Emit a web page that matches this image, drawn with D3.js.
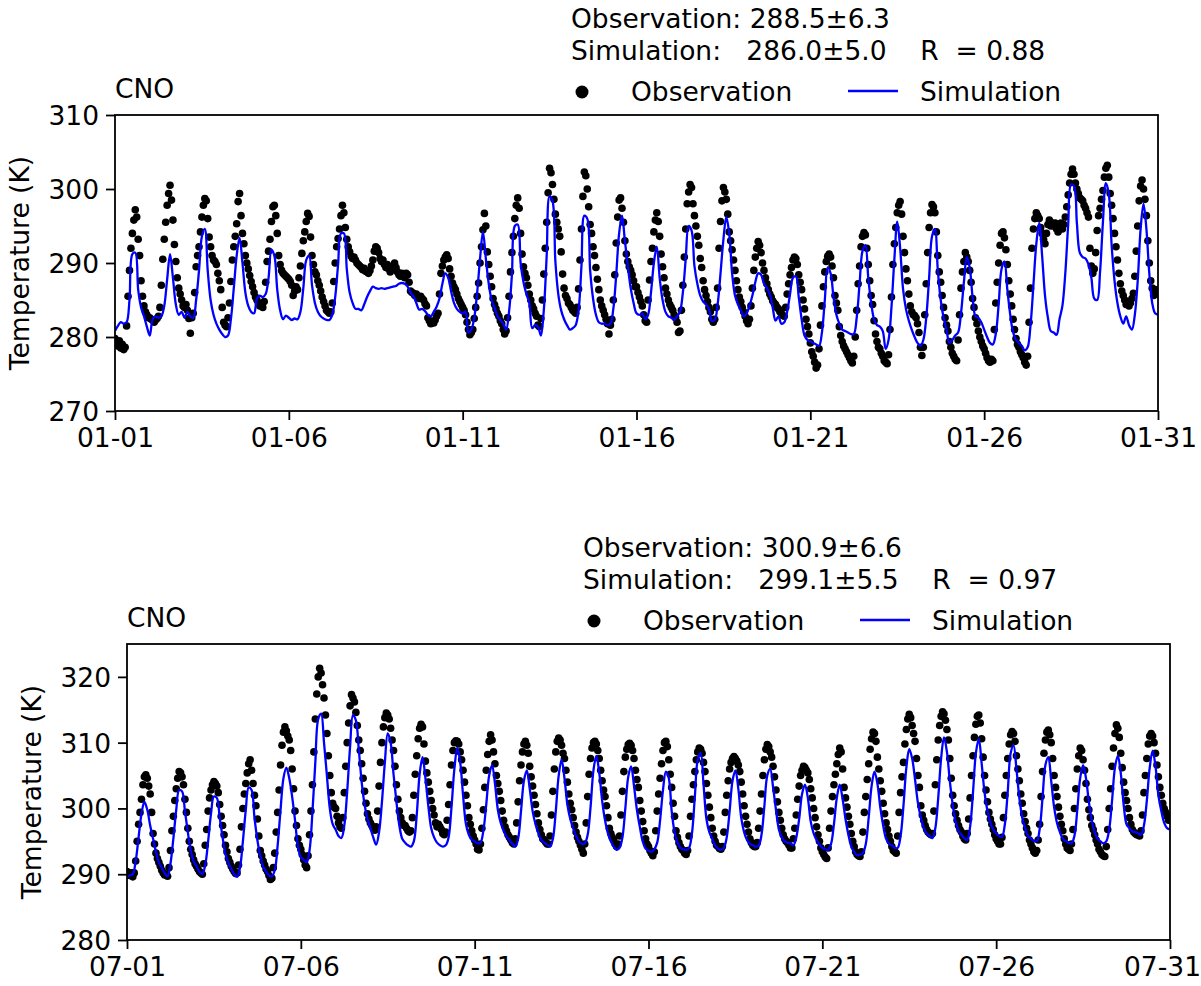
<!DOCTYPE html>
<html><head><meta charset="utf-8">
<script src="https://cdn.jsdelivr.net/npm/d3@7"></script>
<style>
body{margin:0;background:#fff;}
svg text{font-family:"DejaVu Sans",sans-serif;fill:#000;}
</style></head><body>
<svg id="chart" width="1201" height="986"></svg>
<script>
// ---------- January: hourly observations (30 days x 24 h) ----------
const obsJan = [
279.8,279.2,278.8,279.5,278.5,279.0,278.3,278.6,281.5,285.5,289.0,292.0,294.0,295.8,297.2,296.2,293.2,291.0,287.6,285.5,284.2,283.4,283.0,282.6,
282.6,282.4,282.3,282.0,282.3,282.5,282.8,284.0,287.0,290.5,293.2,295.5,297.8,299.4,300.5,298.5,295.8,292.5,290.2,288.0,286.6,285.8,285.0,284.2,
284.0,284.4,283.6,282.5,280.5,282.6,283.2,286.0,289.5,291.0,292.2,294.2,296.2,297.8,298.7,298.4,296.0,293.5,292.2,291.0,290.4,290.2,289.8,288.6,
287.6,286.4,284.0,282.0,281.6,281.4,282.6,284.6,287.5,290.4,292.2,293.6,295.3,298.3,299.4,296.4,294.0,292.6,291.0,290.0,289.2,288.3,287.5,286.8,
286.0,285.4,285.0,284.6,284.2,284.4,284.0,284.8,287.4,290.2,291.6,293.2,295.6,297.6,297.8,296.4,294.0,291.0,289.8,289.0,288.6,288.4,288.2,288.0,
287.8,287.5,287.0,285.6,286.2,286.8,286.4,288.0,289.6,291.3,293.0,294.2,295.6,296.7,296.3,293.5,291.0,289.8,288.8,288.4,287.6,287.0,286.2,285.4,
284.8,284.2,283.6,283.4,283.2,283.4,284.6,287.5,290.0,292.2,293.3,294.6,296.4,297.8,296.8,294.8,293.2,292.2,291.5,290.9,290.6,290.8,290.4,290.0,
289.8,289.6,289.4,289.1,289.3,288.9,288.8,288.6,289.0,289.6,290.4,291.6,292.2,292.0,291.4,290.6,290.2,290.4,289.8,289.4,289.8,289.2,288.8,289.2,
289.6,290.0,289.4,288.8,288.4,288.2,288.6,288.3,288.0,288.6,288.4,287.4,286.2,286.0,285.9,285.6,285.8,285.4,285.2,285.5,285.2,285.0,284.5,284.2,
282.6,282.2,281.8,282.0,281.9,282.3,282.8,283.2,285.8,288.6,289.6,290.4,290.8,291.1,290.6,289.2,288.2,287.3,286.8,286.4,285.8,285.2,284.8,284.4,
284.0,283.6,283.0,282.0,281.0,280.3,280.6,281.0,282.5,284.0,285.5,287.3,290.0,292.2,294.5,296.7,295.0,291.5,289.8,288.2,286.8,285.2,284.4,283.8,
283.2,282.8,282.2,281.8,281.0,280.4,280.8,282.6,285.5,288.8,291.4,293.6,296.0,297.8,298.8,297.4,294.0,291.2,289.5,288.6,288.0,287.0,285.8,285.0,
284.2,283.8,283.2,282.8,281.6,281.4,282.5,285.0,288.5,292.0,295.5,299.5,302.8,302.2,300.6,298.6,296.6,295.5,294.6,293.6,291.5,288.5,286.6,285.6,
285.2,284.6,284.4,284.0,283.6,283.4,283.2,284.0,286.5,290.4,294.6,299.0,302.3,301.8,300.0,297.6,295.2,294.0,292.2,291.0,289.4,287.8,286.4,285.0,
284.2,283.6,283.0,282.4,281.8,280.4,281.6,282.4,285.0,288.4,292.7,296.2,298.5,298.8,297.4,295.5,293.0,291.2,290.2,289.5,289.0,288.4,287.6,286.8,
286.8,286.0,285.4,284.8,284.2,283.0,282.2,282.0,285.0,287.7,290.2,292.0,294.2,295.8,296.8,295.6,293.6,291.2,289.5,288.0,286.6,285.8,285.0,284.4,
284.0,283.6,283.0,282.6,282.0,280.6,280.8,283.6,287.0,290.8,294.6,298.0,299.6,300.6,300.2,298.0,296.4,295.0,293.6,292.4,290.6,289.4,287.6,286.4,
285.6,284.8,284.0,283.4,282.4,282.0,282.4,284.0,286.6,292.0,295.6,298.4,300.2,299.6,298.6,296.6,294.2,293.0,291.8,290.4,289.0,287.6,286.4,285.4,
284.8,284.0,283.4,282.8,282.2,281.8,282.4,284.2,286.6,289.0,290.8,292.0,292.9,292.4,291.4,290.0,289.0,288.0,287.2,286.4,285.8,285.4,284.9,284.6,
284.4,284.0,283.8,283.4,283.2,282.9,282.8,284.0,285.8,287.2,288.4,289.4,290.4,290.8,290.6,289.8,288.4,287.4,286.4,285.0,283.8,282.4,281.4,280.4,
279.2,278.0,277.4,276.6,275.8,276.2,278.4,281.6,284.2,286.8,288.8,290.2,290.9,291.2,290.8,289.6,288.0,285.6,284.6,283.6,281.4,280.2,279.4,278.8,
278.4,278.0,277.6,277.2,276.8,276.5,277.4,280.0,283.6,287.2,289.6,292.2,293.6,294.1,293.8,292.0,289.8,287.6,285.6,284.4,282.2,280.4,279.4,278.6,
278.4,277.8,277.4,276.8,276.6,276.4,277.6,281.0,285.4,289.8,292.6,294.8,296.8,297.8,298.3,296.6,293.6,291.4,289.2,287.6,285.8,284.2,283.4,283.0,
282.9,282.6,281.8,280.6,278.6,277.5,278.6,283.0,287.2,291.4,294.8,296.8,297.9,297.6,296.8,294.2,291.0,288.8,287.4,285.6,284.0,282.6,281.6,280.8,
279.4,278.6,277.8,277.4,277.0,276.8,279.6,283.0,286.6,288.8,290.2,291.4,290.8,290.2,289.0,287.4,285.2,284.0,282.6,281.8,280.8,280.0,279.4,278.8,
278.4,277.8,277.2,276.8,276.6,277.0,276.8,281.0,284.6,287.4,290.0,292.4,294.0,294.2,293.4,291.8,289.8,287.6,285.8,284.2,282.4,281.0,279.8,279.0,
278.6,278.0,277.6,277.2,276.6,276.2,277.4,282.0,286.6,292.0,294.6,296.0,296.8,296.4,296.0,294.8,294.0,293.2,292.6,294.0,295.2,295.8,295.0,295.4,
295.0,295.4,294.6,294.2,295.0,295.4,294.6,295.2,296.2,297.6,299.2,300.8,302.0,302.7,302.0,300.8,300.0,299.4,298.8,298.6,298.4,297.8,297.4,296.8,
296.2,292.0,289.6,288.6,289.2,291.4,294.4,296.4,297.4,298.6,299.8,301.6,302.8,303.2,301.6,299.4,297.8,296.0,294.0,292.2,290.4,288.6,287.2,286.2,
285.6,285.0,284.4,284.8,284.2,284.6,285.2,285.9,288.2,291.6,295.0,298.4,300.4,301.2,300.0,298.6,296.4,293.0,290.0,287.6,286.6,285.6,286.4,285.8
];
// ---------- January: simulation, every 2 hours (30 days x 12 + final) ----------
const simJan = [
280.8,281.5,282.0,281.8,282.0,285.0,291.2,291.4,286.4,284.0,282.8,281.4,
280.2,282.4,282.8,282.6,282.8,284.2,287.8,291.2,288.0,284.4,283.0,283.4,
282.6,283.4,282.8,282.6,285.0,289.0,293.6,294.6,289.0,285.0,283.0,281.8,
281.0,280.4,280.0,280.2,282.4,286.6,291.0,293.4,290.0,286.0,284.2,283.4,
283.2,285.2,285.6,285.4,285.8,288.0,291.8,291.0,286.4,283.6,282.4,282.9,
282.6,282.3,282.5,282.4,283.4,286.6,290.4,291.0,287.0,284.6,283.4,282.8,
282.5,282.3,282.3,283.0,285.4,289.8,294.0,294.0,289.2,286.0,284.6,283.8,
283.8,283.6,284.4,285.4,286.2,286.8,286.6,286.5,286.6,286.5,286.6,286.7,
286.8,286.9,287.2,287.3,287.2,286.8,286.0,285.5,284.6,283.7,283.8,283.5,
283.0,282.8,283.4,284.1,285.2,287.2,288.6,288.0,286.2,284.6,283.8,283.4,
283.2,283.4,280.6,281.0,282.6,286.0,290.6,294.2,290.6,287.2,285.0,284.0,
282.8,282.3,281.8,281.0,283.4,288.4,295.0,295.2,290.0,287.4,285.8,284.6,
281.2,281.6,281.4,280.2,283.6,291.0,299.0,298.4,290.2,285.8,283.6,282.4,
281.6,281.0,281.2,281.6,283.6,289.6,296.4,296.0,289.0,285.2,283.0,282.0,
281.8,281.8,281.6,281.8,283.8,288.4,294.0,296.4,293.0,289.6,286.6,284.6,
283.2,283.0,283.2,282.4,283.0,286.0,290.0,292.2,288.0,285.0,283.4,282.8,
282.6,282.3,282.8,283.4,286.0,290.6,295.0,294.4,289.6,287.2,285.6,284.8,
284.4,283.8,282.2,282.3,284.4,288.6,293.2,296.2,294.0,288.6,285.6,284.4,
283.6,282.8,283.2,284.2,285.6,287.4,288.6,288.4,287.2,286.6,285.8,284.0,
282.2,282.8,281.8,282.0,283.4,285.8,288.0,288.2,285.4,282.4,280.2,279.6,
279.4,279.2,279.0,278.8,280.6,285.0,289.4,288.6,285.4,283.0,281.8,281.0,
280.8,280.6,280.4,280.4,282.6,287.2,291.6,292.4,288.0,284.6,282.4,281.6,
281.4,280.8,278.4,279.6,284.0,290.5,295.6,292.0,286.5,283.8,282.2,281.0,
280.0,279.2,278.8,279.6,282.6,288.0,293.6,294.6,289.0,285.0,282.6,281.0,
279.2,279.6,280.2,280.6,283.2,287.4,290.8,289.4,285.4,282.8,282.6,282.0,
281.0,280.0,279.2,279.0,280.4,284.4,289.2,290.2,286.4,283.0,280.6,279.6,
279.2,278.8,278.2,278.6,281.6,287.0,292.6,295.4,291.0,285.6,282.6,280.8,
280.6,280.3,282.4,284.2,288.6,295.2,300.6,300.4,295.4,291.4,290.8,290.6,
289.8,288.0,285.2,285.0,288.8,295.6,300.8,299.4,292.4,287.6,284.6,282.8,
281.8,282.8,281.6,281.0,283.0,287.6,294.6,298.0,294.6,288.6,284.6,283.2,
283.0
];
// ---------- July: hourly observations ----------
const obsJul = [
290.4,290.0,289.8,290.2,289.6,290.2,292.0,295.0,297.6,299.4,301.4,303.6,304.8,305.1,304.6,303.4,302.2,299.4,296.2,294.6,293.2,292.4,291.8,291.2,
290.6,290.2,289.9,290.0,289.7,291.0,293.6,296.6,298.8,301.2,303.0,304.6,305.6,305.4,304.8,303.6,301.4,299.4,297.0,295.0,293.8,293.0,292.2,291.6,
291.2,290.8,290.4,290.2,290.0,291.6,294.4,296.8,299.6,301.6,302.8,303.6,304.1,303.8,303.4,302.4,300.6,298.8,297.4,296.0,294.4,293.4,292.4,291.8,
291.2,290.8,290.4,290.1,290.2,291.4,293.8,297.2,300.0,302.2,303.8,305.4,306.8,307.4,305.8,303.8,302.0,300.4,298.4,295.8,293.6,292.8,292.0,291.4,
290.8,290.4,289.8,289.2,289.4,291.0,293.2,296.4,299.4,302.8,306.6,309.6,311.6,312.4,311.8,311.0,310.4,308.8,306.0,303.0,299.6,297.4,295.4,294.4,
293.8,293.0,292.2,291.4,291.0,292.8,296.0,299.6,303.6,308.6,313.6,317.4,320.0,321.3,320.6,318.8,316.8,314.2,311.4,308.0,305.0,302.4,300.8,300.2,
300.0,298.8,297.8,297.2,297.0,298.6,302.4,306.4,310.0,313.0,315.6,317.3,316.8,316.2,314.6,312.6,310.4,308.8,306.8,304.6,302.6,300.8,299.2,298.4,
297.8,297.4,297.0,296.7,297.2,299.6,303.4,307.0,310.0,312.4,313.8,314.5,314.2,313.6,312.2,310.4,308.8,306.4,303.6,301.4,299.6,298.6,297.8,297.4,
297.4,297.0,296.6,296.4,296.6,298.6,302.0,305.2,308.0,310.6,312.2,312.8,312.4,309.8,307.2,305.4,304.0,302.6,301.2,300.0,299.0,297.8,297.2,297.6,
297.2,296.8,296.2,296.0,296.4,298.2,300.6,303.6,306.6,308.8,310.0,310.3,310.2,309.8,308.6,307.4,305.8,304.0,302.0,300.4,298.6,297.6,296.6,295.8,
295.2,294.6,293.8,293.7,294.6,297.0,299.8,303.2,305.8,308.2,310.2,311.2,310.4,308.6,306.8,305.0,303.8,302.6,301.2,299.6,298.2,297.2,296.6,296.0,
295.6,295.2,294.8,294.6,295.4,297.8,301.0,304.2,306.6,308.6,309.8,310.2,309.6,308.4,306.4,304.8,303.4,302.0,300.6,299.2,297.8,296.8,296.0,295.4,
295.2,294.9,294.6,294.6,295.8,299.0,302.6,306.0,308.6,310.2,310.7,310.4,309.6,308.4,307.6,305.8,304.0,302.2,300.8,299.8,298.6,297.4,296.4,295.6,
295.0,294.4,293.8,293.2,294.6,297.8,301.8,305.2,307.6,309.2,310.0,310.2,309.8,308.8,307.6,305.8,304.2,302.8,301.8,300.4,298.6,297.0,296.2,295.6,
295.2,294.6,294.2,294.6,295.8,299.0,302.6,305.6,307.8,309.0,309.7,309.9,309.6,308.8,307.6,305.8,304.4,303.2,301.2,299.6,298.0,296.6,295.4,294.6,
294.2,293.6,293.2,292.8,293.4,296.6,299.6,302.2,304.6,306.8,308.8,310.0,310.2,309.4,307.4,305.2,303.2,300.8,298.8,296.6,295.6,294.8,294.2,293.8,
293.6,293.2,293.0,293.6,295.8,298.8,301.4,303.6,305.6,307.4,308.6,309.2,309.0,308.4,307.0,305.6,303.8,302.0,300.2,298.6,297.0,295.8,295.0,294.4,
294.2,293.9,293.8,294.2,296.4,299.4,302.0,304.2,306.0,307.0,307.6,307.9,307.6,307.2,306.6,305.6,304.0,302.2,300.4,298.8,297.6,296.4,295.4,294.8,
294.4,294.2,294.2,294.8,297.0,299.6,302.2,305.0,307.4,309.0,309.7,309.4,308.6,307.8,306.4,304.8,302.8,301.0,299.4,298.2,297.0,296.0,295.4,295.0,
294.8,294.4,294.0,294.0,295.4,297.0,299.0,301.4,303.4,305.0,305.8,306.4,306.2,305.8,305.4,304.4,303.0,301.6,300.0,298.6,297.2,296.0,295.0,294.0,
293.4,293.0,292.6,292.4,294.0,297.0,299.6,301.8,303.6,305.2,306.8,308.2,309.2,308.6,306.0,303.2,301.6,300.2,298.8,297.6,296.2,295.0,294.2,293.4,
293.0,292.8,292.7,293.4,296.4,299.4,301.8,304.4,306.8,309.0,310.6,311.6,311.4,310.2,307.8,306.0,304.2,302.6,300.8,299.2,297.8,296.8,295.8,295.0,
294.2,293.6,293.4,293.2,295.8,299.4,302.4,304.8,307.0,309.8,312.0,313.6,314.3,313.8,312.6,311.4,310.2,307.6,305.0,303.2,300.4,299.0,298.2,297.4,
296.8,296.4,296.2,296.0,296.2,299.6,303.6,307.4,310.4,312.6,314.0,314.7,314.4,313.4,312.0,310.4,307.6,304.6,302.0,300.4,299.2,298.2,297.4,296.8,
296.4,295.8,295.4,295.2,296.2,298.4,301.6,305.0,308.0,310.8,312.8,314.0,314.2,313.0,310.6,307.8,305.0,302.8,301.0,299.4,298.4,297.6,296.8,296.0,
295.4,295.0,294.6,294.6,295.6,298.6,302.0,305.0,307.6,309.8,311.2,311.7,311.4,310.2,308.0,306.0,304.2,302.2,300.8,299.2,298.0,297.0,296.2,295.2,
294.6,294.0,293.4,293.2,293.6,295.2,297.6,301.8,305.6,308.4,310.4,311.6,311.9,311.2,310.0,307.6,305.0,303.2,301.8,300.2,298.8,297.6,296.6,295.4,
294.6,294.0,293.8,293.6,294.6,296.8,300.0,303.0,306.0,308.0,309.2,308.8,307.4,305.8,303.8,301.4,299.8,298.6,297.4,296.8,296.0,295.2,294.6,293.8,
293.4,293.0,292.8,292.7,294.2,296.8,300.0,303.0,306.4,309.2,311.4,312.7,312.2,310.8,308.4,306.2,304.0,302.4,301.2,300.0,298.6,297.6,296.8,296.4,
296.2,296.0,296.0,295.8,296.6,299.0,302.4,305.0,307.6,309.8,311.0,311.4,311.0,310.0,308.4,306.6,304.8,303.2,302.0,300.8,300.0,299.4,298.8,298.2
];
// ---------- July: simulation, every 2 hours ----------
const simJul = [
289.6,289.8,290.0,292.0,295.6,299.2,301.0,299.8,297.4,295.4,293.4,291.8,
291.0,290.2,289.7,291.6,295.4,299.8,302.8,302.6,299.6,296.4,293.6,292.0,
291.2,290.4,290.0,291.4,295.0,299.2,301.8,301.6,298.6,295.6,293.0,291.7,
290.8,290.0,289.6,291.0,295.0,299.8,303.2,302.8,298.6,295.2,292.8,291.2,
290.4,289.8,289.7,290.6,294.4,299.8,304.6,306.2,304.6,301.8,298.2,294.2,
292.6,292.2,291.8,293.6,299.4,307.0,313.6,314.4,310.0,305.0,300.0,297.6,
296.8,295.8,295.5,297.4,302.6,309.4,314.2,313.4,309.0,304.0,300.6,298.4,
297.0,295.6,294.5,296.4,301.0,307.0,311.4,310.0,305.2,301.0,297.4,295.4,
294.8,294.4,294.2,295.0,299.0,305.2,307.8,304.6,300.4,297.0,295.6,294.8,
294.4,294.2,294.4,295.6,300.2,306.0,309.2,307.0,302.0,297.6,296.0,295.2,
295.0,294.7,294.8,296.6,300.6,305.0,306.6,303.8,299.8,297.8,296.6,295.7,
295.2,294.6,294.2,295.4,299.6,304.2,305.8,303.0,299.6,297.6,296.2,295.2,
294.8,294.5,294.2,295.4,299.6,305.0,307.4,304.6,300.6,298.4,297.0,295.8,
295.0,294.6,294.7,296.0,300.2,305.8,308.0,305.4,301.2,298.2,296.2,295.0,
294.2,293.7,294.0,295.6,300.0,304.8,306.4,303.4,299.8,297.2,295.0,293.9,
293.6,293.4,293.8,294.8,298.2,302.8,305.6,304.6,299.6,296.4,294.8,294.0,
293.8,293.7,294.0,296.2,301.8,307.4,308.4,303.6,298.4,296.4,295.4,294.4,
293.9,293.7,294.0,295.6,299.6,304.2,305.8,303.0,298.6,296.4,295.2,294.6,
294.4,294.2,294.3,296.0,300.4,305.0,306.0,303.2,299.8,296.8,295.6,295.0,
294.8,294.7,294.4,295.6,298.4,302.2,303.6,301.6,298.0,296.2,295.2,294.5,
294.0,293.8,293.7,294.6,297.6,301.6,303.6,301.4,298.4,296.0,294.2,293.4,
292.9,293.0,293.2,294.6,298.6,303.4,305.6,303.8,300.2,297.4,295.4,294.6,
294.4,294.0,294.0,295.8,300.4,306.2,309.0,307.6,304.4,300.8,298.6,297.0,
296.2,295.8,295.5,297.0,301.6,307.6,310.8,308.6,304.2,300.6,298.0,296.6,
296.0,295.5,295.2,297.2,302.4,308.4,310.6,306.8,302.4,299.6,297.8,296.8,
296.2,295.8,295.7,297.6,302.6,308.4,309.6,306.0,301.6,298.6,297.0,295.8,
295.4,295.1,295.0,296.8,301.6,306.6,307.8,304.2,300.2,297.8,296.4,295.4,
295.0,294.8,294.7,295.8,299.8,304.6,306.6,304.6,301.0,298.2,296.4,295.4,
295.0,294.7,295.0,296.8,301.2,306.2,308.0,305.4,300.6,297.6,297.0,296.5,
296.4,296.2,296.0,297.4,301.2,306.2,308.8,306.4,302.0,299.6,297.8,297.0,
296.8
];
// ---------- labels ----------
const ticksJan = ["01-01","01-06","01-11","01-16","01-21","01-26","01-31"];
const ticksJul = ["07-01","07-06","07-11","07-16","07-21","07-26","07-31"];
const yTicksJan = [270,280,290,300,310];
const yTicksJul = [280,290,300,310,320];
const statsJan = ["Observation: 288.5\u00b16.3", "Simulation:   286.0\u00b15.0    R  = 0.88"];
const statsJul = ["Observation: 300.9\u00b16.6", "Simulation:   299.1\u00b15.5    R  = 0.97"];
const siteName = "CNO";
const legendLabels = ["Observation", "Simulation"];
const yLabel = "Temperature (K)";

const panels = [
  {obs: obsJan, sim: simJan, ticks: ticksJan, yTicks: yTicksJan, yDomain: [270, 310], stats: statsJan, left: 115, top: 115, h: 296},
  {obs: obsJul, sim: simJul, ticks: ticksJul, yTicks: yTicksJul, yDomain: [280, 325], stats: statsJul, left: 127, top: 644, h: 296}
];

const W = 1043, FS = 26.5;
const svg = d3.select('#chart');

panels.forEach((p, i) => {
  const H = p.h;
  const g = svg.append('g').attr('transform', `translate(${p.left},${p.top})`);
  const x = d3.scaleLinear().domain([0, 720]).range([0, W]);
  const y = d3.scaleLinear().domain(p.yDomain).range([H, 0]);

  const clipId = 'clip' + i;
  g.append('clipPath').attr('id', clipId).append('rect').attr('width', W).attr('height', H);
  const plot = g.append('g').attr('clip-path', `url(#${clipId})`);

  plot.append('g').selectAll('circle').data(p.obs).join('circle')
    .attr('cx', (d, k) => x(k)).attr('cy', d => y(d)).attr('r', 3.8).attr('fill', '#000');

  const line = d3.line().x((d, k) => x(k * 2)).y(d => y(d)).curve(d3.curveCatmullRom.alpha(0.5));
  plot.append('path').datum(p.sim).attr('d', line)
    .attr('fill', 'none').attr('stroke', '#0000ff').attr('stroke-width', 2.3).attr('stroke-linejoin', 'round');

  // axes
  const xAxis = d3.axisBottom(x).tickValues(d3.range(0, 721, 120))
    .tickFormat((d, k) => p.ticks[k]).tickSize(9).tickPadding(6);
  const gx = g.append('g').attr('transform', `translate(0,${H})`).call(xAxis);
  const yAxis = d3.axisLeft(y).tickValues(p.yTicks).tickFormat(d3.format('d')).tickSize(9).tickPadding(7);
  const gy = g.append('g').call(yAxis);
  [gx, gy].forEach(a => {
    a.select('.domain').remove();
    a.selectAll('.tick line').attr('stroke', '#000').attr('stroke-width', 1.8);
    a.selectAll('.tick text').attr('font-size', FS).attr('font-family', '"DejaVu Sans",sans-serif').attr('fill', '#000');
  });
  gx.selectAll('.tick text').attr('dy', '0.78em');
  // keep the last date label inside the page
  gx.selectAll('.tick text').filter((d, k, n) => k === n.length - 1 && p.left + W + 38 > 1201)
    .attr('dx', -(p.left + W + 39 - 1201));
  gy.selectAll('.tick text').attr('dy', '0.36em');

  // frame
  g.append('rect').attr('width', W).attr('height', H)
    .attr('fill', 'none').attr('stroke', '#000').attr('stroke-width', 1.8);

  // y label
  g.append('text').attr('transform', `translate(-86,${H / 2}) rotate(-90)`)
    .attr('text-anchor', 'middle').attr('font-size', FS).text(yLabel);

  // site name
  g.append('text').attr('x', 0).attr('y', -17).attr('font-size', FS).text(siteName);

  // stats
  p.stats.forEach((s, k) => {
    g.append('text').attr('x', 456).attr('y', -87 + k * 32).attr('font-size', FS)
      .style('white-space', 'pre').attr('xml:space', 'preserve').text(s);
  });

  // legend
  g.append('circle').attr('cx', 467).attr('cy', -23).attr('r', 6.5).attr('fill', '#000');
  g.append('text').attr('x', 516).attr('y', -14).attr('font-size', FS).text(legendLabels[0]);
  g.append('line').attr('x1', 733).attr('x2', 783).attr('y1', -24).attr('y2', -24)
    .attr('stroke', '#0000ff').attr('stroke-width', 2.4);
  g.append('text').attr('x', 805).attr('y', -14).attr('font-size', FS).text(legendLabels[1]);
});
</script>
</body></html>
